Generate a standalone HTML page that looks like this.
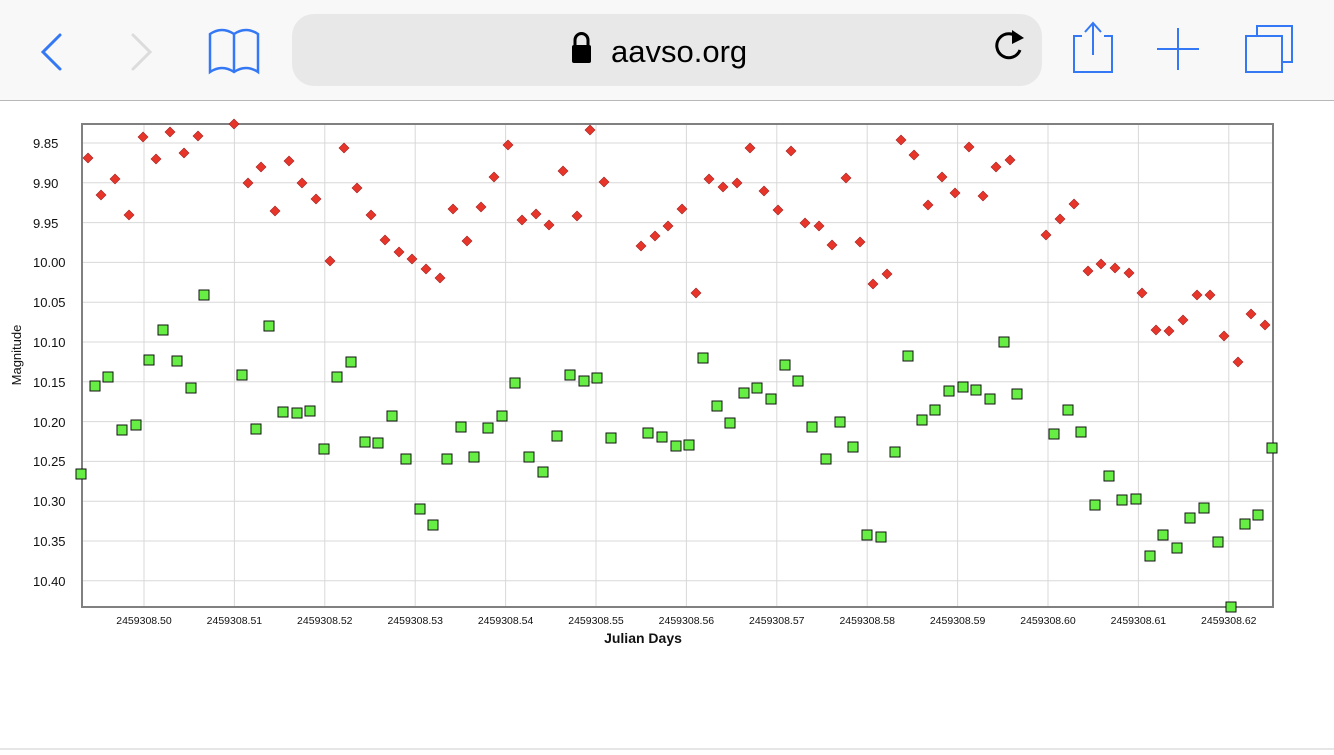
<!DOCTYPE html>
<html><head><meta charset="utf-8"><style>
body{margin:0;width:1334px;height:750px;background:#fff;overflow:hidden;font-family:"Liberation Sans",sans-serif}
</style></head><body>
<svg width="1334" height="750" xmlns="http://www.w3.org/2000/svg" font-family="Liberation Sans, sans-serif">
<rect x="0" y="0" width="1334" height="100" fill="#f8f8f8"/>
<line x1="0" y1="100.5" x2="1334" y2="100.5" stroke="#b8b8b8"/>
<polyline points="60,35 43,52 60,69" fill="none" stroke="#3478f6" stroke-width="3" stroke-linecap="round"/>
<polyline points="133,35 150,52 133,69" fill="none" stroke="#dcdcdc" stroke-width="3" stroke-linecap="round"/>
<path d="M210,72 V34 Q222,26 234,34 Q246,26 258,34 V72 Q246,64 234,72 Q222,64 210,72 Z M234,34 V72" fill="none" stroke="#3478f6" stroke-width="2.5"/>
<rect x="292" y="14" width="750" height="72" rx="22" fill="#e8e8e8"/>
<rect x="572" y="45" width="19" height="18" rx="2" fill="#000"/>
<path d="M575,46 V40 a6.5,6.5 0 0 1 13,0 V46" fill="none" stroke="#000" stroke-width="3"/>
<text x="611" y="62" font-size="31" fill="#000">aavso.org</text>
<path d="M1018,38 A12,12 0 1 0 1020,50" fill="none" stroke="#000" stroke-width="3"/>
<polygon points="1012,30 1024,38 1012,44" fill="#000"/>
<rect x="1074" y="36" width="38" height="36" fill="none" stroke="#3478f6" stroke-width="2"/>
<rect x="1082" y="30" width="22" height="8" fill="#f8f8f8"/>
<line x1="1093" y1="24" x2="1093" y2="55" stroke="#3478f6" stroke-width="2"/>
<polyline points="1085,32 1093,23 1101,32" fill="none" stroke="#3478f6" stroke-width="2"/>
<line x1="1178" y1="28" x2="1178" y2="70" stroke="#3478f6" stroke-width="2"/>
<line x1="1157" y1="49" x2="1199" y2="49" stroke="#3478f6" stroke-width="2"/>
<rect x="1246" y="36" width="36" height="36" fill="none" stroke="#3478f6" stroke-width="2"/>
<polyline points="1257,36 1257,26 1292,26 1292,62 1282,62" fill="none" stroke="#3478f6" stroke-width="2"/>

<g stroke="#d8d8d8" stroke-width="1">
<line x1="82" x2="1273" y1="143" y2="143"/><line x1="82" x2="1273" y1="182.8" y2="182.8"/><line x1="82" x2="1273" y1="222.6" y2="222.6"/><line x1="82" x2="1273" y1="262.4" y2="262.4"/><line x1="82" x2="1273" y1="302.2" y2="302.2"/><line x1="82" x2="1273" y1="342" y2="342"/><line x1="82" x2="1273" y1="381.8" y2="381.8"/><line x1="82" x2="1273" y1="421.6" y2="421.6"/><line x1="82" x2="1273" y1="461.4" y2="461.4"/><line x1="82" x2="1273" y1="501.2" y2="501.2"/><line x1="82" x2="1273" y1="541" y2="541"/><line x1="82" x2="1273" y1="580.8" y2="580.8"/>
<line y1="124" y2="607" x1="144" x2="144"/><line y1="124" y2="607" x1="234.4" x2="234.4"/><line y1="124" y2="607" x1="324.8" x2="324.8"/><line y1="124" y2="607" x1="415.2" x2="415.2"/><line y1="124" y2="607" x1="505.6" x2="505.6"/><line y1="124" y2="607" x1="596" x2="596"/><line y1="124" y2="607" x1="686.4" x2="686.4"/><line y1="124" y2="607" x1="776.8" x2="776.8"/><line y1="124" y2="607" x1="867.2" x2="867.2"/><line y1="124" y2="607" x1="957.6" x2="957.6"/><line y1="124" y2="607" x1="1048" x2="1048"/><line y1="124" y2="607" x1="1138.4" x2="1138.4"/><line y1="124" y2="607" x1="1228.8" x2="1228.8"/>
</g>
<rect x="82" y="124" width="1191" height="483" fill="none" stroke="#808080" stroke-width="2"/>
<g font-size="13" fill="#111" text-anchor="start">
<text x="33" y="148">9.85</text><text x="33" y="188">9.90</text><text x="33" y="228">9.95</text><text x="33" y="267">10.00</text><text x="33" y="307">10.05</text><text x="33" y="347">10.10</text><text x="33" y="387">10.15</text><text x="33" y="427">10.20</text><text x="33" y="466">10.25</text><text x="33" y="506">10.30</text><text x="33" y="546">10.35</text><text x="33" y="586">10.40</text>
</g>
<g font-size="10.5" fill="#111" text-anchor="middle">
<text x="144" y="624">2459308.50</text><text x="234.4" y="624">2459308.51</text><text x="324.8" y="624">2459308.52</text><text x="415.2" y="624">2459308.53</text><text x="505.6" y="624">2459308.54</text><text x="596" y="624">2459308.55</text><text x="686.4" y="624">2459308.56</text><text x="776.8" y="624">2459308.57</text><text x="867.2" y="624">2459308.58</text><text x="957.6" y="624">2459308.59</text><text x="1048" y="624">2459308.60</text><text x="1138.4" y="624">2459308.61</text><text x="1228.8" y="624">2459308.62</text>
</g>
<text x="643" y="643" font-size="14" font-weight="bold" text-anchor="middle" fill="#111">Julian Days</text>
<text x="21" y="355" font-size="13" text-anchor="middle" fill="#111" transform="rotate(-90 21 355)">Magnitude</text>
<defs>
<path id="d" d="M0,-5 L5,0 L0,5 L-5,0 Z" fill="#e8352a" stroke="#a02020" stroke-width="0.6"/>
<rect id="s" x="-5" y="-5" width="10" height="10" fill="#66ee44" stroke="#111" stroke-width="1"/>
</defs>
<g>
<use href="#s" x="81" y="474"/><use href="#s" x="95" y="386"/><use href="#s" x="108" y="377"/><use href="#s" x="122" y="430"/><use href="#s" x="136" y="425"/><use href="#s" x="149" y="360"/><use href="#s" x="163" y="330"/><use href="#s" x="177" y="361"/><use href="#s" x="191" y="388"/><use href="#s" x="204" y="295"/><use href="#s" x="242" y="375"/><use href="#s" x="256" y="429"/><use href="#s" x="269" y="326"/><use href="#s" x="283" y="412"/><use href="#s" x="297" y="413"/><use href="#s" x="310" y="411"/><use href="#s" x="324" y="449"/><use href="#s" x="337" y="377"/><use href="#s" x="351" y="362"/><use href="#s" x="365" y="442"/><use href="#s" x="378" y="443"/><use href="#s" x="392" y="416"/><use href="#s" x="406" y="459"/><use href="#s" x="420" y="509"/><use href="#s" x="433" y="525"/><use href="#s" x="447" y="459"/><use href="#s" x="461" y="427"/><use href="#s" x="474" y="457"/><use href="#s" x="488" y="428"/><use href="#s" x="502" y="416"/><use href="#s" x="515" y="383"/><use href="#s" x="529" y="457"/><use href="#s" x="543" y="472"/><use href="#s" x="557" y="436"/><use href="#s" x="570" y="375"/><use href="#s" x="584" y="381"/><use href="#s" x="597" y="378"/><use href="#s" x="611" y="438"/><use href="#s" x="648" y="433"/><use href="#s" x="662" y="437"/><use href="#s" x="676" y="446"/><use href="#s" x="689" y="445"/><use href="#s" x="703" y="358"/><use href="#s" x="717" y="406"/><use href="#s" x="730" y="423"/><use href="#s" x="744" y="393"/><use href="#s" x="757" y="388"/><use href="#s" x="771" y="399"/><use href="#s" x="785" y="365"/><use href="#s" x="798" y="381"/><use href="#s" x="812" y="427"/><use href="#s" x="826" y="459"/><use href="#s" x="840" y="422"/><use href="#s" x="853" y="447"/><use href="#s" x="867" y="535"/><use href="#s" x="881" y="537"/><use href="#s" x="895" y="452"/><use href="#s" x="908" y="356"/><use href="#s" x="922" y="420"/><use href="#s" x="935" y="410"/><use href="#s" x="949" y="391"/><use href="#s" x="963" y="387"/><use href="#s" x="976" y="390"/><use href="#s" x="990" y="399"/><use href="#s" x="1004" y="342"/><use href="#s" x="1017" y="394"/><use href="#s" x="1054" y="434"/><use href="#s" x="1068" y="410"/><use href="#s" x="1081" y="432"/><use href="#s" x="1095" y="505"/><use href="#s" x="1109" y="476"/><use href="#s" x="1122" y="500"/><use href="#s" x="1136" y="499"/><use href="#s" x="1150" y="556"/><use href="#s" x="1163" y="535"/><use href="#s" x="1177" y="548"/><use href="#s" x="1190" y="518"/><use href="#s" x="1204" y="508"/><use href="#s" x="1218" y="542"/><use href="#s" x="1231" y="607"/><use href="#s" x="1245" y="524"/><use href="#s" x="1258" y="515"/><use href="#s" x="1272" y="448"/>
</g>
<g>
<use href="#d" x="88" y="158"/><use href="#d" x="101" y="195"/><use href="#d" x="115" y="179"/><use href="#d" x="129" y="215"/><use href="#d" x="143" y="137"/><use href="#d" x="156" y="159"/><use href="#d" x="170" y="132"/><use href="#d" x="184" y="153"/><use href="#d" x="198" y="136"/><use href="#d" x="234" y="124"/><use href="#d" x="248" y="183"/><use href="#d" x="261" y="167"/><use href="#d" x="275" y="211"/><use href="#d" x="289" y="161"/><use href="#d" x="302" y="183"/><use href="#d" x="316" y="199"/><use href="#d" x="330" y="261"/><use href="#d" x="344" y="148"/><use href="#d" x="357" y="188"/><use href="#d" x="371" y="215"/><use href="#d" x="385" y="240"/><use href="#d" x="399" y="252"/><use href="#d" x="412" y="259"/><use href="#d" x="426" y="269"/><use href="#d" x="440" y="278"/><use href="#d" x="453" y="209"/><use href="#d" x="467" y="241"/><use href="#d" x="481" y="207"/><use href="#d" x="494" y="177"/><use href="#d" x="508" y="145"/><use href="#d" x="522" y="220"/><use href="#d" x="536" y="214"/><use href="#d" x="549" y="225"/><use href="#d" x="563" y="171"/><use href="#d" x="577" y="216"/><use href="#d" x="590" y="130"/><use href="#d" x="604" y="182"/><use href="#d" x="641" y="246"/><use href="#d" x="655" y="236"/><use href="#d" x="668" y="226"/><use href="#d" x="682" y="209"/><use href="#d" x="696" y="293"/><use href="#d" x="709" y="179"/><use href="#d" x="723" y="187"/><use href="#d" x="737" y="183"/><use href="#d" x="750" y="148"/><use href="#d" x="764" y="191"/><use href="#d" x="778" y="210"/><use href="#d" x="791" y="151"/><use href="#d" x="805" y="223"/><use href="#d" x="819" y="226"/><use href="#d" x="832" y="245"/><use href="#d" x="846" y="178"/><use href="#d" x="860" y="242"/><use href="#d" x="873" y="284"/><use href="#d" x="887" y="274"/><use href="#d" x="901" y="140"/><use href="#d" x="914" y="155"/><use href="#d" x="928" y="205"/><use href="#d" x="942" y="177"/><use href="#d" x="955" y="193"/><use href="#d" x="969" y="147"/><use href="#d" x="983" y="196"/><use href="#d" x="996" y="167"/><use href="#d" x="1010" y="160"/><use href="#d" x="1046" y="235"/><use href="#d" x="1060" y="219"/><use href="#d" x="1074" y="204"/><use href="#d" x="1088" y="271"/><use href="#d" x="1101" y="264"/><use href="#d" x="1115" y="268"/><use href="#d" x="1129" y="273"/><use href="#d" x="1142" y="293"/><use href="#d" x="1156" y="330"/><use href="#d" x="1169" y="331"/><use href="#d" x="1183" y="320"/><use href="#d" x="1197" y="295"/><use href="#d" x="1210" y="295"/><use href="#d" x="1224" y="336"/><use href="#d" x="1238" y="362"/><use href="#d" x="1251" y="314"/><use href="#d" x="1265" y="325"/>
</g>
<line x1="0" y1="749" x2="1334" y2="749" stroke="#ccc"/>
</svg>
</body></html>
